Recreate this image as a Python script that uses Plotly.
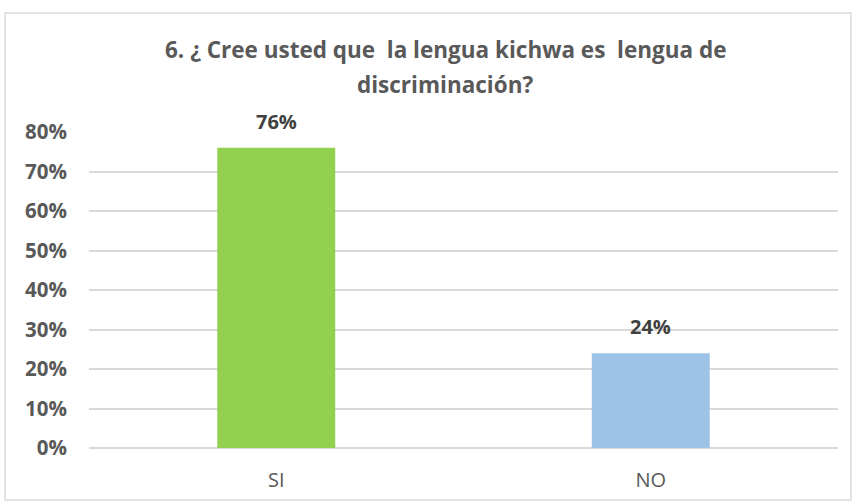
import plotly.graph_objects as go

categories = ['SI', 'NO']
values = [0.76, 0.24]
labels = ['76%', '24%']
colors = ['#92D050', '#9DC3E6']
title_lines = ['6. ¿ Cree usted que  la lengua kichwa es  lengua de', 'discriminación?']

fig = go.Figure()
fig.add_bar(x=categories, y=values, marker_color=colors, marker_line_width=0,
            hoverinfo='skip')

# data labels above the bars
for cat, val, lab in zip(categories, values, labels):
    fig.add_annotation(x=cat, y=val, text=f'<b>{lab}</b>', showarrow=False,
                       yanchor='bottom', yshift=11,
                       font=dict(size=20, color='#404040'))

# chart geometry (pixels)
L, R, T, B = 89, 14, 132, 54
pw, ph = 852 - L - R, 502 - T - B

# two-line title, Excel-style spacing
for line, ypx in zip(title_lines, [50, 84]):
    fig.add_annotation(xref='paper', yref='paper', x=(445 - L) / pw, y=(448 - ypx) / ph,
                       text=f'<b>{line}</b>', showarrow=False,
                       xanchor='center', yanchor='middle',
                       font=dict(size=22.5, color='#595959'))

# chart border
fig.add_shape(type='rect', xref='paper', yref='paper',
              x0=(5 - L) / pw, x1=(851 - L) / pw,
              y0=-(500 - 448) / ph, y1=(448 - 13) / ph,
              line=dict(color='#D9D9D9', width=1.5))

fig.update_layout(
    width=852, height=502,
    margin=dict(l=L, r=R, t=T, b=B, autoexpand=False),
    paper_bgcolor='white', plot_bgcolor='white',
    font=dict(family='Open Sans, sans-serif', color='#595959'),
    bargap=0.685,
    showlegend=False,
)
fig.update_xaxes(showline=False, ticks='', tickfont=dict(size=20, color='#595959'),
                 ticklabelstandoff=18, automargin=False)
fig.update_yaxes(range=[0, 0.8], dtick=0.1, tickformat='.0%',
                 gridcolor='#D9D9D9', gridwidth=1.5, zeroline=True,
                 zerolinecolor='#D9D9D9', zerolinewidth=1.5,
                 tickfont=dict(size=20.5, color='#595959', weight='bold'),
                 ticklabelstandoff=21, automargin=False)

fig.write_html('out.html', config={'displayModeBar': False},
               post_script="document.body.style.margin='0';")
